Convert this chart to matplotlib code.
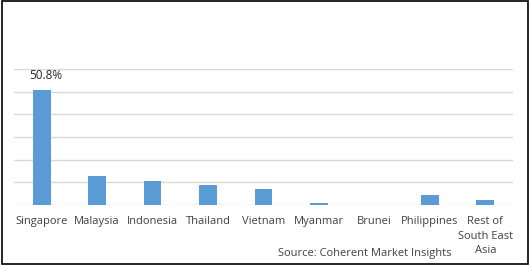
import matplotlib.pyplot as plt
import matplotlib.patches as patches
import numpy as np

countries = ['Singapore', 'Malaysia', 'Indonesia', 'Thailand', 'Vietnam',
             'Myanmar', 'Brunei', 'Philippines', 'Rest of\nSouth East\nAsia']
share = [50.8, 12.7, 10.5, 8.8, 7.0, 1.0, 0.0, 4.4, 2.2]

plt.rcParams['font.family'] = ['Open Sans', 'DejaVu Sans']

fig = plt.figure(figsize=(5.3, 2.65), dpi=100)
ax = fig.add_axes([0.0264, 0.2264, 0.9415, 0.5132])

x = np.arange(len(countries))
ax.bar(x, share, width=0.32, color='#5B9BD5', zorder=3)
ax.set_xlim(-0.5, len(countries) - 0.5)
ax.set_ylim(0, 60)
ax.set_yticks(np.arange(0, 61, 10))
ax.yaxis.grid(True, color='#D9D9D9', linewidth=1)
ax.set_yticklabels([])
ax.tick_params(axis='y', length=0)
ax.tick_params(axis='x', length=0, pad=8)
for s in ax.spines.values():
    s.set_visible(False)
ax.set_xticks(x)
ax.set_xticklabels(countries, fontsize=8, color='#404040', linespacing=1.45, va='top')

ax.text(x[0] + 0.08, share[0] + 6.3, '%.1f%%' % share[0], ha='center', va='center',
        fontsize=8.5, color='#262626')

fig.text(0.689, 0.045, 'Source: Coherent Market Insights', ha='center', va='center',
         fontsize=8, color='#404040')

fig.patches.append(patches.Rectangle((0.003, 0.005), 0.994, 0.99, transform=fig.transFigure,
                                     fill=False, edgecolor='black', linewidth=1.2))

fig.savefig('out.png', dpi=100)
